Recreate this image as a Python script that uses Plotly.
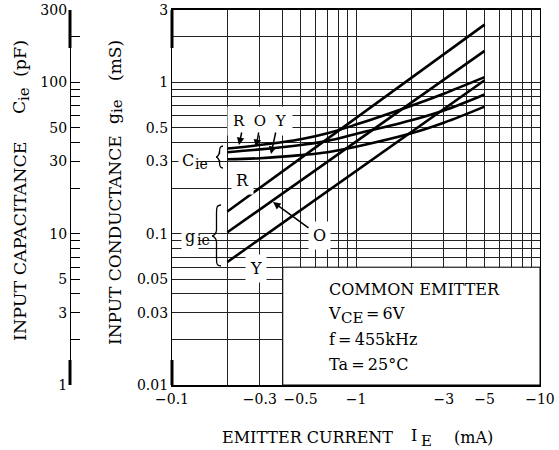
import plotly.graph_objects as go
import math

# ---------------- data ----------------
ie_ma = [-0.2, -0.3, -0.5, -0.7, -1, -2, -3, -5]          # emitter current (mA)
gie_ends_ma = [-0.2, -5]
gie_R = [0.14, 2.4]      # mS
gie_O = [0.102, 1.61]
gie_Y = [0.065, 1.03]
cie_R = [36.5, 38.5, 42, 46, 52.5, 70, 84, 108]   # pF
cie_O = [34.5, 36, 38.5, 41, 45.5, 56, 65, 83]
cie_Y = [31, 31.5, 33, 34.5, 37.5, 46, 54, 69]

x_grid = [0.1, 0.2, 0.3, 0.4, 0.5, 0.6, 0.7, 0.8, 0.9, 1, 2, 3, 4, 5, 6, 7, 8, 9, 10]
x_labels = {0.1: "−0.1", 0.3: "−0.3", 0.5: "−0.5", 1: "−1", 3: "−3", 5: "−5", 10: "−10"}
y_grid = [0.01, 0.02, 0.03, 0.04, 0.05, 0.06, 0.07, 0.08, 0.09,
          0.1, 0.2, 0.3, 0.4, 0.5, 0.6, 0.7, 0.8, 0.9, 1, 2, 3]
y_labels = {0.01: "0.01", 0.03: "0.03", 0.05: "0.05", 0.1: "0.1", 0.3: "0.3",
            0.5: "0.5", 1: "1", 3: "3"}
c_ticks = [1, 2, 3, 4, 5, 6, 7, 8, 9, 10, 20, 30, 40, 50, 60, 70, 80, 90, 100, 200, 300]
c_labels = {1: "1", 3: "3", 5: "5", 10: "10", 30: "30", 50: "50", 100: "100", 300: "300"}

# ---------------- layout helpers ----------------
W, H = 559, 450
ML, MR, MT, MB = 10, 19, 10, 65
PW, PH = W - ML - MR, H - MT - MB
def px(x): return (x - ML) / PW      # window pixel -> paper
def py(y): return 1 - (y - MT) / PH

FONT = "DejaVu Serif"
absx = lambda arr: [abs(v) for v in arr]

fig = go.Figure()
LW = 2.6
for g in (gie_R, gie_O, gie_Y):
    fig.add_trace(go.Scatter(x=absx(gie_ends_ma), y=g, mode="lines",
                             line=dict(color="black", width=LW), yaxis="y", hoverinfo="skip"))
for c in (cie_R, cie_O, cie_Y):
    fig.add_trace(go.Scatter(x=absx(ie_ma), y=c, mode="lines",
                             line=dict(color="black", width=LW, shape="spline", smoothing=1.0),
                             yaxis="y2", hoverinfo="skip"))

shapes = []
# white information box covering the grid
shapes.append(dict(type="rect", xref="x", yref="y", x0=0.4, x1=10, y0=0.01, y1=0.06,
                   fillcolor="white", line=dict(color="black", width=1), layer="between"))

# heavier end segments of the two vertical axis lines
for xr, xv in (("x domain", 0), ("paper", px(70))):
    for y0, y1 in ((py(10), py(48)), (py(360), py(385))):
        shapes.append(dict(type="line", xref=xr, yref="paper", x0=xv, x1=xv, y0=y0, y1=y1,
                           line=dict(color="black", width=3)))

def brace(top, tip, bottom, xr):
    tx, ty = tip
    xm = (xr + tx) / 2
    pts = [("M", [(xr, top)]),
           ("C", [(xm, top), (xm, top + 3), (xm, top + 8)]),
           ("L", [(xm, ty - 6)]),
           ("C", [(xm, ty - 2), (tx + 1, ty), (tx, ty)]),
           ("C", [(tx + 1, ty), (xm, ty + 2), (xm, ty + 6)]),
           ("L", [(xm, bottom - 8)]),
           ("C", [(xm, bottom - 3), (xm, bottom), (xr, bottom)])]
    s = ""
    for cmd, ps in pts:
        s += cmd + " " + " ".join(f"{px(a):.5f},{py(b):.5f}" for a, b in ps) + " "
    return s

shapes.append(dict(type="path", xref="paper", yref="paper", path=brace(205, (212, 236), 266, 221),
                   line=dict(color="black", width=1.3)))
shapes.append(dict(type="path", xref="paper", yref="paper", path=brace(146, (216, 157), 168, 223),
                   line=dict(color="black", width=1.3)))

ann = []
def label(text, x, y, size=15, bg="white", xanchor="center", pad=2, angle=0):
    ann.append(dict(text=text, x=px(x), y=py(y), xref="paper", yref="paper", showarrow=False,
                    xanchor=xanchor, yanchor="middle", textangle=angle,
                    font=dict(family=FONT, size=size, color="black"),
                    bgcolor=bg, borderpad=pad))

def arrow(tip, tail):
    ann.append(dict(text="", x=px(tip[0]), y=py(tip[1]), xref="paper", yref="paper",
                    ax=tail[0] - tip[0], ay=tail[1] - tip[1], showarrow=True,
                    arrowhead=2, arrowsize=1, arrowwidth=1.5, arrowcolor="black"))

NB = "rgba(0,0,0,0)"
label("R\u00a0\u00a0O\u00a0\u00a0Y", 260, 121, pad=5)
arrow((239, 145), (242, 131))
arrow((256, 147), (259, 131))
arrow((271, 154), (276, 131))
label("C", 188, 160, size=16, pad=3)
label("ie", 192, 164, size=14, bg=NB, xanchor="left")
label("g", 190, 236, size=16, pad=3)
label("ie", 194, 240, size=14, bg=NB, xanchor="left")
label("R", 242, 181, size=16, pad=4)
label("Y", 256, 268, size=16, pad=4)
label("O", 319, 235, size=16, pad=4)
arrow((273, 202), (310, 229))

label("COMMON EMITTER", 326, 289, size=16, xanchor="left", bg=NB)
label("V", 325, 313, size=16, xanchor="left", bg=NB)
label("CE", 338, 318, size=15, xanchor="left", bg=NB)
label("=\u20096V", 363, 313, size=16, xanchor="left", bg=NB)
label("f\u2009=\u2009455kHz", 326, 339, size=16, xanchor="left", bg=NB)
label("Ta\u2009=\u200925°C", 326, 364, size=16, xanchor="left", bg=NB)

# axis titles
label("EMITTER CURRENT", 307, 437, size=16, bg=NB)
label("I", 414, 436, size=16, bg=NB)
label("E", 426, 441, size=15, bg=NB)
label("(mA)", 473, 437, size=16, bg=NB)

label("INPUT CONDUCTANCE", 115, 240, size=17, bg=NB, angle=-90)
label("g", 113, 119, size=17, bg=NB, angle=-90)
label("ie", 117, 106, size=15, bg=NB, angle=-90)
label("(mS)", 115, 61, size=17, bg=NB, angle=-90)

label("INPUT CAPACITANCE", 20, 241, size=17.5, bg=NB, angle=-90)
label("C", 19, 108, size=17.5, bg=NB, angle=-90)
label("ie", 24, 94, size=15, bg=NB, angle=-90)
label("(pF)", 20, 59, size=17.5, bg=NB, angle=-90)

tickfont = dict(family=FONT, size=14, color="black")
fig.update_layout(
    width=W, height=H, margin=dict(l=ML, r=MR, t=MT, b=MB, autoexpand=False),
    paper_bgcolor="white", plot_bgcolor="white", showlegend=False,
    font=dict(family=FONT, color="black"),
    xaxis=dict(type="log", range=[-1, 1], domain=[px(172), 1],
               tickvals=x_grid, ticktext=[x_labels.get(v, "") for v in x_grid],
               showgrid=True, gridcolor="#222", gridwidth=1, ticks="", zeroline=False,
               showline=True, linecolor="black", linewidth=2, mirror=True,
               tickfont=tickfont, anchor="y", automargin=False, ticklabeloverflow="allow"),
    yaxis=dict(type="log", range=[-2, math.log10(3)], domain=[0, 1], anchor="x",
               tickvals=y_grid, ticktext=[y_labels.get(v, "") for v in y_grid],
               showgrid=True, gridcolor="#222", gridwidth=1, ticks="",
               showline=True, linecolor="black", linewidth=1.2, mirror=True,
               tickfont=tickfont, zeroline=False, automargin=False, ticklabeloverflow="allow"),
    yaxis2=dict(type="log", range=[0, math.log10(300)], overlaying="y", anchor="free",
                position=px(70), side="left",
                tickvals=c_ticks, ticktext=[c_labels.get(v, "") for v in c_ticks],
                ticks="inside", ticklen=9, tickwidth=1, tickcolor="black",
                showgrid=False, showline=True, linecolor="black", linewidth=1.2,
                tickfont=tickfont, zeroline=False, automargin=False, ticklabeloverflow="allow"),
    shapes=shapes, annotations=ann,
)
fig.write_html("out.html", config={"displayModeBar": False},
               post_script="document.body.style.margin='0';")
